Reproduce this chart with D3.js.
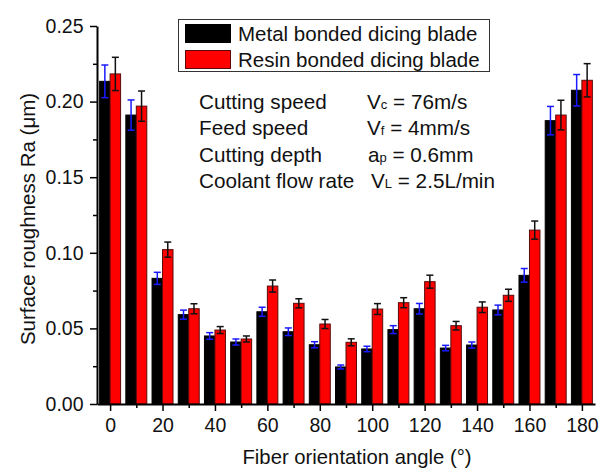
<!DOCTYPE html>
<html><head><meta charset="utf-8">
<script src="https://cdn.jsdelivr.net/npm/d3@7"></script>
<style>body{margin:0;background:#fff}svg{display:block}text{font-family:Arial,"Liberation Sans",sans-serif;fill:#111}</style>
</head><body><svg id="c" width="601" height="468"></svg>
<script>
const angles=[0,10,20,30,40,50,60,70,80,90,100,110,120,130,140,150,160,170,180];
const metal=[0.2134,0.1911,0.0831,0.0591,0.0450,0.0410,0.0610,0.0478,0.0392,0.0245,0.0364,0.0492,0.0630,0.0370,0.0390,0.0622,0.0851,0.1874,0.2075];
const metalErr=[0.0108,0.0100,0.0040,0.0030,0.0022,0.0020,0.0030,0.0025,0.0020,0.0013,0.0018,0.0026,0.0035,0.0018,0.0020,0.0032,0.0045,0.0094,0.0104];
const resin=[0.2183,0.1970,0.1021,0.0630,0.0489,0.0430,0.0780,0.0666,0.0529,0.0408,0.0628,0.0670,0.0809,0.0518,0.0640,0.0719,0.1150,0.1911,0.2141];
const resinErr=[0.0110,0.0100,0.0050,0.0033,0.0023,0.0020,0.0040,0.0030,0.0030,0.0023,0.0036,0.0033,0.0043,0.0028,0.0035,0.0040,0.0060,0.0098,0.0110];
const xTicks=[0,20,40,60,80,100,120,140,160,180];
const xMinor=[10,30,50,70,90,110,130,150,170];
const yTicks=[0,0.05,0.10,0.15,0.20,0.25];
const yMinor=[0.025,0.075,0.125,0.175,0.225];
const seriesNames=["Metal bonded dicing blade","Resin bonded dicing blade"];
const seriesColors=["#000000","#ff0000"];
const notes=[["Cutting speed","V","c"," = 76m/s"],["Feed speed","V","f"," = 4mm/s"],["Cutting depth","a","p"," = 0.6mm"],["Coolant flow rate","V","L"," = 2.5L/min"]];

const svg=d3.select("#c");
const FF='Arial,"Liberation Sans",sans-serif';
const x=d3.scaleLinear().domain([-5,185]).range([97,595]);
const y=d3.scaleLinear().domain([0,0.25]).range([404,26]);
const bw=4;

// bars
const data=angles.map((a,i)=>({a,m:metal[i],me:metalErr[i],r:resin[i],re:resinErr[i]}));
const g=svg.append("g");
g.selectAll(".bm").data(data).join("rect")
 .attr("x",d=>x(d.a-bw)).attr("width",d=>x(d.a)-x(d.a-bw))
 .attr("y",d=>y(d.m)).attr("height",d=>y(0)-y(d.m))
 .attr("fill",seriesColors[0]).attr("stroke","#000").attr("stroke-width",1);
g.selectAll(".br").data(data).join("rect")
 .attr("x",d=>x(d.a)).attr("width",d=>x(d.a+bw)-x(d.a))
 .attr("y",d=>y(d.r)).attr("height",d=>y(0)-y(d.r))
 .attr("fill",seriesColors[1]).attr("stroke","#5a0a0a").attr("stroke-width",1);

function errBars(off,val,err,col){
  const e=svg.append("g").attr("stroke",col).attr("stroke-width",1.5).attr("fill","none");
  data.forEach(d=>{
    const cx=x(d.a+off), v=d[val], s=d[err];
    e.append("line").attr("x1",cx).attr("x2",cx).attr("y1",y(v+s)).attr("y2",y(v-s));
    e.append("line").attr("x1",cx-3.5).attr("x2",cx+3.5).attr("y1",y(v+s)).attr("y2",y(v+s));
    e.append("line").attr("x1",cx-3.5).attr("x2",cx+3.5).attr("y1",y(v-s)).attr("y2",y(v-s));
  });
}
errBars(-bw/2,"m","me","#1a1aff");
errBars(bw/2,"r","re","#111");

// axes
svg.append("g").attr("transform","translate(0,404)")
 .call(d3.axisBottom(x).tickValues(xTicks).tickFormat(d3.format("d")).tickSizeInner(7).tickSizeOuter(0).tickPadding(7));
svg.append("g").attr("transform","translate(0,404)")
 .call(d3.axisBottom(x).tickValues(xMinor).tickFormat("").tickSizeInner(4).tickSizeOuter(0))
 .call(s=>s.select(".domain").remove());
svg.append("g").attr("transform","translate(97,0)")
 .call(d3.axisLeft(y).tickValues(yTicks).tickFormat(d3.format(".2f")).tickSizeInner(7).tickSizeOuter(0).tickPadding(6.5));
svg.append("g").attr("transform","translate(97,0)")
 .call(d3.axisLeft(y).tickValues(yMinor).tickFormat("").tickSizeInner(4).tickSizeOuter(0))
 .call(s=>s.select(".domain").remove());
svg.selectAll(".domain").attr("stroke","#000").attr("stroke-width",2);
svg.selectAll(".tick line").attr("stroke","#000").attr("stroke-width",1.5);
svg.selectAll(".tick text").attr("font-size",19.5).attr("fill","#111").attr("font-family",FF);

// axis titles
svg.append("text").attr("x",357).attr("y",464).attr("text-anchor","middle").attr("font-size",20.3).text("Fiber orientation angle (°)");
svg.append("text").attr("transform","translate(35,219) rotate(-90)").attr("text-anchor","middle").attr("font-size",20.5).text("Surface roughness Ra (μm)");

// legend
const lg=svg.append("g");
lg.append("rect").attr("x",178.5).attr("y",19.5).attr("width",311).attr("height",52).attr("fill","#fff").attr("stroke","#333").attr("stroke-width",1);
seriesNames.forEach((n,i)=>{
  lg.append("rect").attr("x",185.5).attr("y",24.5+i*26).attr("width",45).attr("height",18)
    .attr("fill",seriesColors[i]).attr("stroke",i?"#5a0a0a":"#000");
  lg.append("text").attr("x",238).attr("y",40.5+i*26).attr("font-size",20.5).text(n);
});

// notes
notes.forEach((n,i)=>{
  const yy=109+i*26.3;
  svg.append("text").attr("x",199).attr("y",yy).attr("font-size",20.7).text(n[0]);
  const t=svg.append("text").attr("x",[367,367,368,371][i]).attr("y",yy).attr("font-size",20.7);
  t.append("tspan").text(n[1]);
  t.append("tspan").attr("font-size",13).text(n[2]);
  t.append("tspan").text(n[3]);
});
</script></body></html>
